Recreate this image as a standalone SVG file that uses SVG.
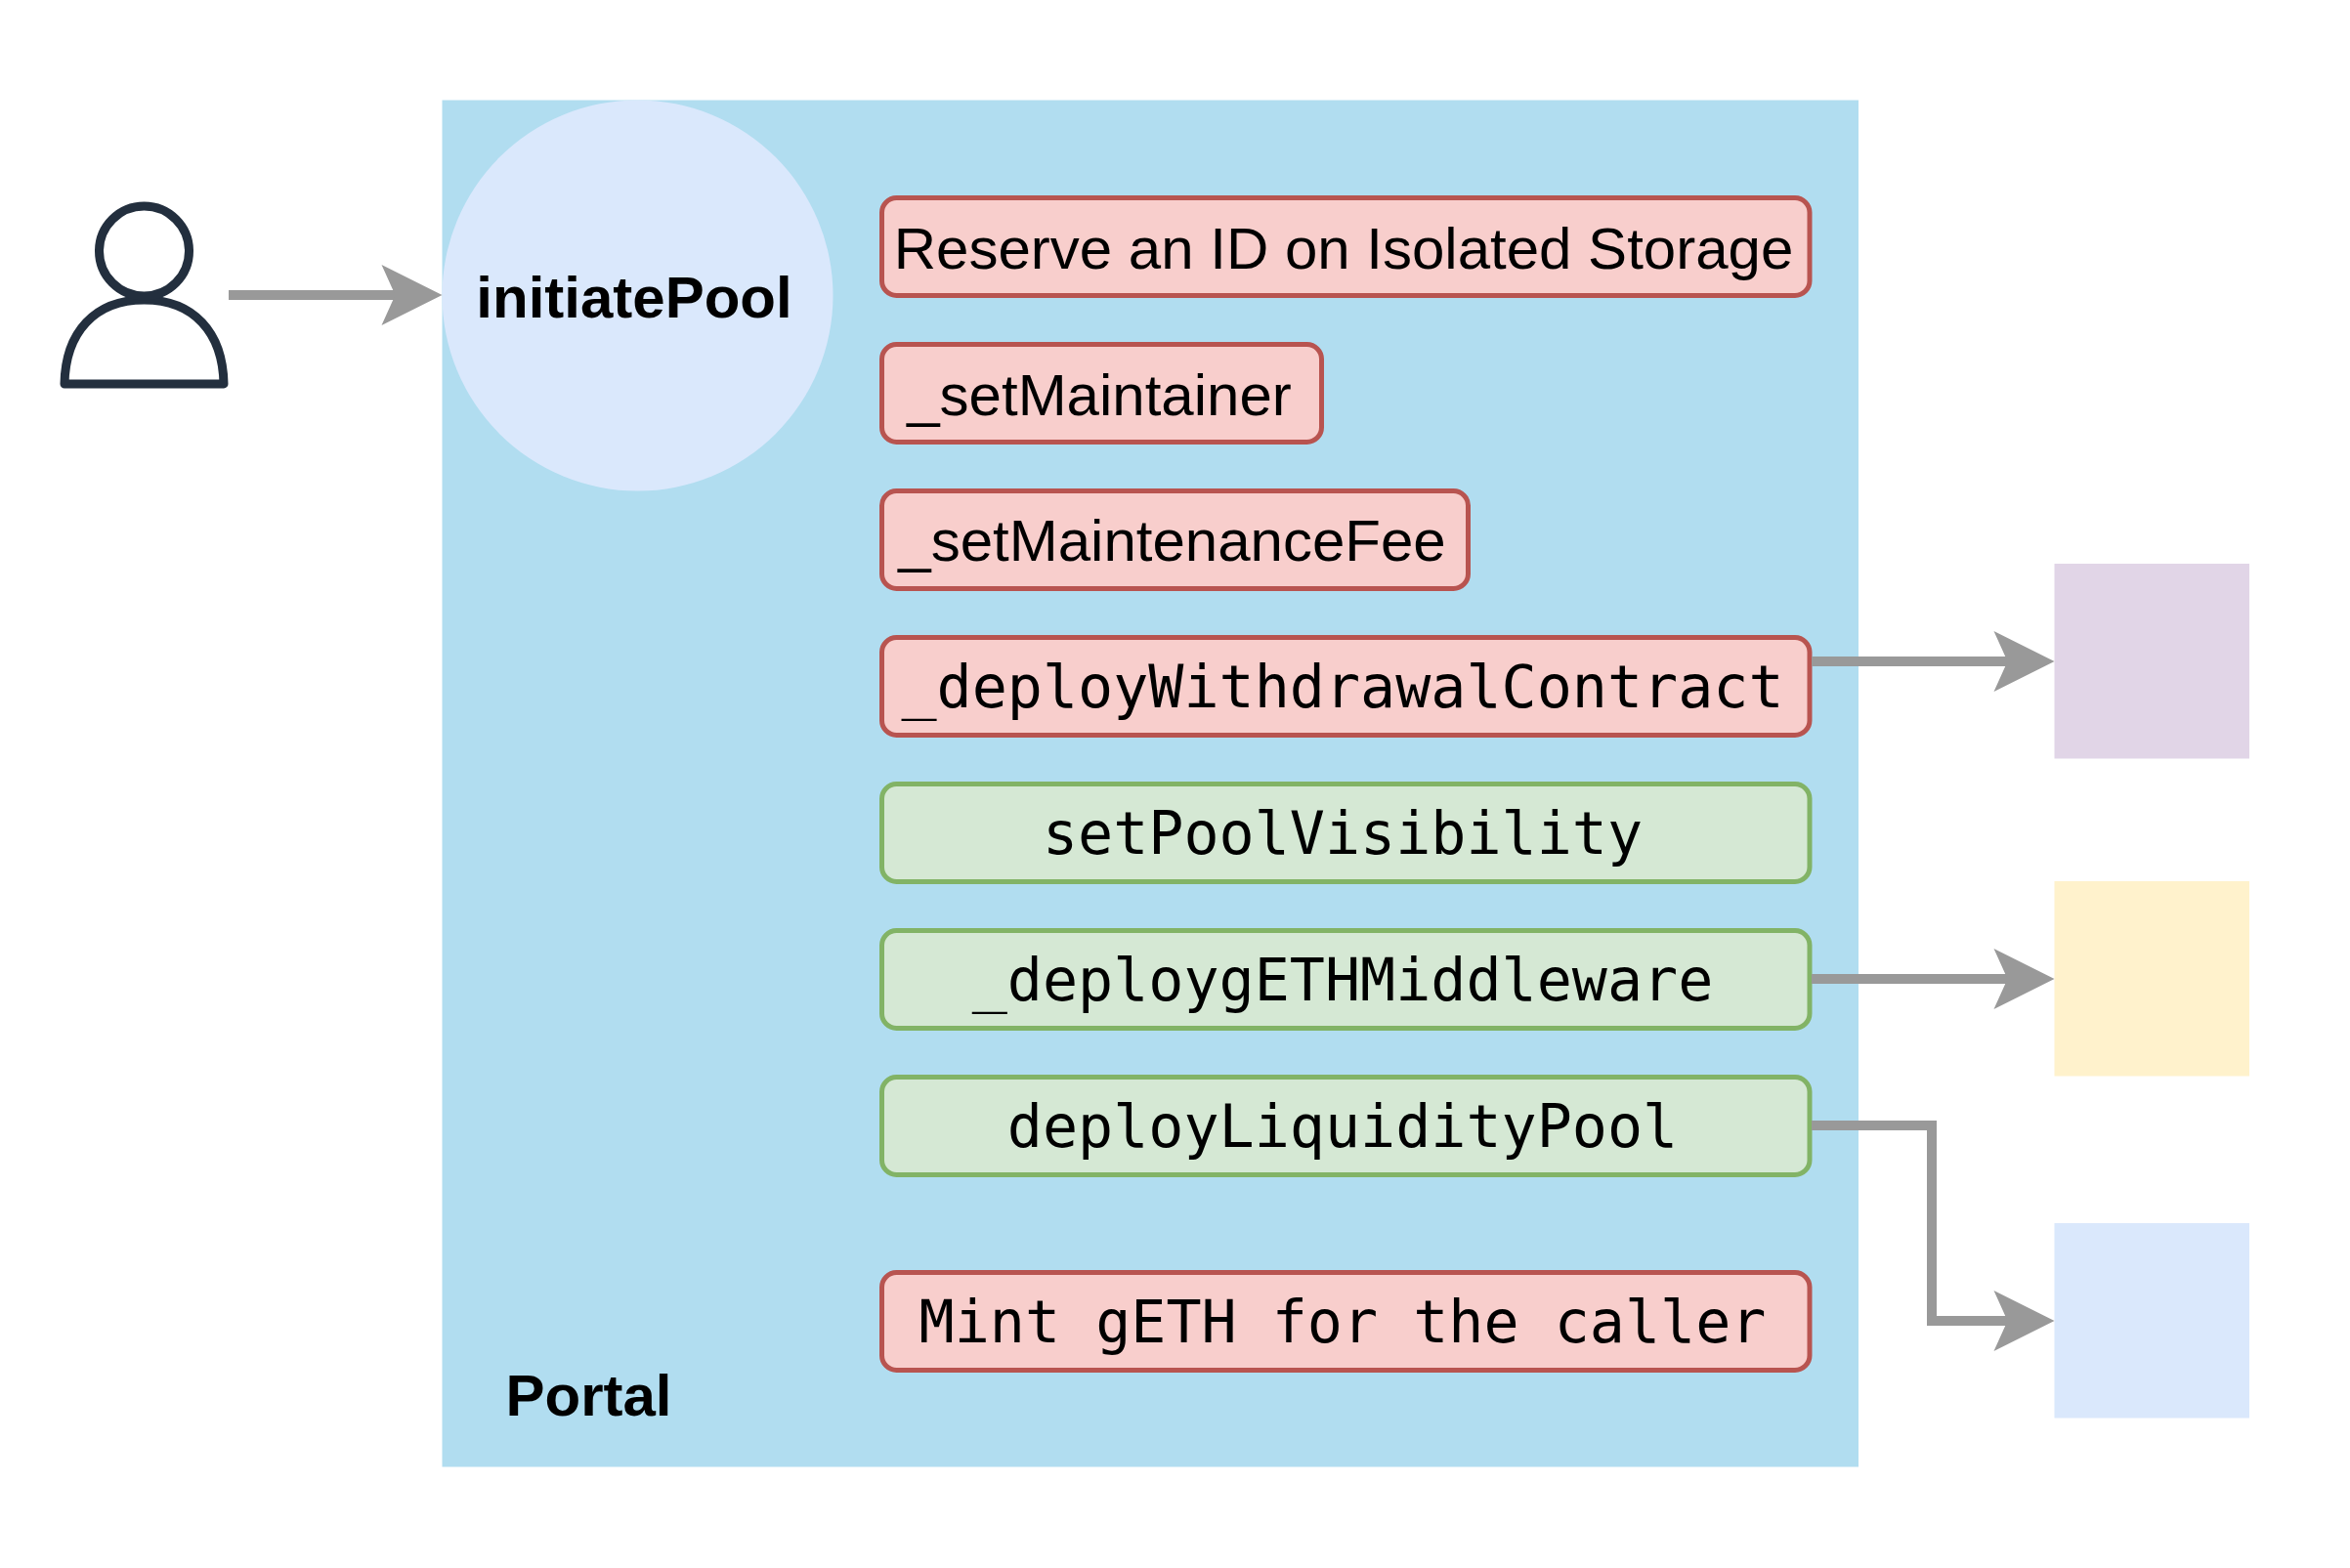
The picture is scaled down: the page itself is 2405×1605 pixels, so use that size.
<svg xmlns="http://www.w3.org/2000/svg" width="2405" height="1605" viewBox="0 0 2405 1605">
<style>
.b{stroke-width:5}
.r{fill:#f8cecc;stroke:#b85450}
.g{fill:#d5e8d4;stroke:#82b366}
text{fill:#000;font-size:60px;text-anchor:middle}
.s{font-family:"Liberation Sans",Arial,sans-serif}
.bd{font-weight:700}
.m{font-family:"DejaVu Sans Mono",monospace}
.c{fill:none;stroke:#999999;stroke-width:10;stroke-miterlimit:10}
.h{fill:#999999}
.a{fill:#fff;stroke:#232f3e;stroke-width:9;stroke-linejoin:round}
</style>
<defs>
<path id="head" class="h" d="M0 0L-62 -31L-48 0L-62 31Z"/>
</defs>
<rect width="2405" height="1605" fill="#ffffff"/>
<g id="portal"><rect x="452.5" y="102.5" width="1449.5" height="1399" fill="#b1ddf0"/><text class="s bd" x="602.5" y="1448.5">Portal</text></g>
<g id="initiatePool"><circle cx="652.5" cy="302.5" r="200" fill="#dae8fc"/><text class="s bd" x="649" y="324.5">initiatePool</text></g>
<g id="user">
<path class="a" d="M66 393C67 340 97 307 147.5 307C198 307 228 340 229 393Z"/>
<circle class="a" cx="147.5" cy="257" r="46"/>
</g>
<g id="reserve"><rect class="b r" x="902.5" y="202.5" width="949.5" height="100" rx="15"/><text class="s" x="1375" y="275">Reserve an ID on Isolated Storage</text></g>
<g id="setMaintainer"><rect class="b r" x="902.5" y="352.5" width="450" height="100" rx="15"/><text class="s" x="1125" y="425">_setMaintainer</text></g>
<g id="setMaintenanceFee"><rect class="b r" x="902.5" y="502.5" width="600" height="100" rx="15"/><text class="s" x="1199.5" y="574">_setMaintenanceFee</text></g>
<g id="deployWithdrawalContract"><rect class="b r" x="902.5" y="652.5" width="949.5" height="100" rx="15"/><text class="m" x="1374" y="724">_deployWithdrawalContract</text></g>
<g id="setPoolVisibility"><rect class="b g" x="902.5" y="802.5" width="949.5" height="100" rx="15"/><text class="m" x="1374" y="874">setPoolVisibility</text></g>
<g id="deploygETHMiddleware"><rect class="b g" x="902.5" y="952.5" width="949.5" height="100" rx="15"/><text class="m" x="1374" y="1024">_deploygETHMiddleware</text></g>
<g id="deployLiquidityPool"><rect class="b g" x="902.5" y="1102.5" width="949.5" height="100" rx="15"/><text class="m" x="1374" y="1174">deployLiquidityPool</text></g>
<g id="mintGETH"><rect class="b r" x="902.5" y="1302.5" width="949.5" height="100" rx="15"/><text class="m" x="1374" y="1374">Mint gETH for the caller</text></g>
<g id="withdrawalContract"><rect x="2102.5" y="577" width="199.5" height="199.5" fill="#e1d5e7"/></g>
<g id="gETHMiddleware"><rect x="2102.5" y="902" width="199.5" height="199.5" fill="#fff2cc"/></g>
<g id="liquidityPool"><rect x="2102.5" y="1252" width="199.5" height="199.5" fill="#dae8fc"/></g>
<g id="connectors">
<path class="c" d="M234 302H410"/><use href="#head" x="452.5" y="302"/>
<path class="c" d="M1854 677H2060"/><use href="#head" x="2102.5" y="677"/>
<path class="c" d="M1854 1002H2060"/><use href="#head" x="2102.5" y="1002"/>
<path class="c" d="M1854 1152H1977V1352H2060"/><use href="#head" x="2102.5" y="1352"/>
</g>
</svg>
